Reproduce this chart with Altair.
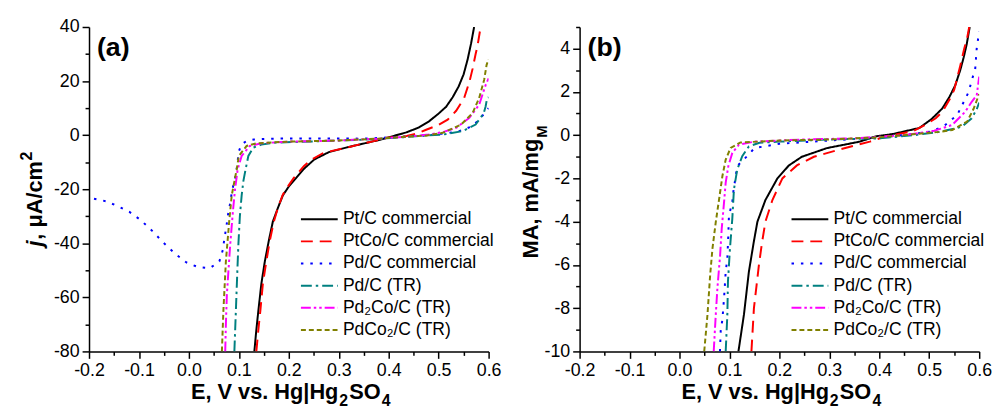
import altair as alt
import pandas as pd

FONT = "Liberation Sans, Arial, Helvetica, sans-serif"

# ---------------- series names / styles ----------------
names = ["Pt/C commercial", "PtCo/C commercial", "Pd/C commercial",
         "Pd/C (TR)", "Pd₂Co/C (TR)", "PdCo₂/C (TR)"]
colors = ["#000000", "#ff0000", "#0000ff", "#008080", "#ff00ff", "#808000"]
dashes = [[1, 0], [12, 7], [2.5, 7], [11, 4, 2.5, 4], [10, 3, 2.5, 3, 2.5, 3], [5, 3]]

# ---------------- panel (a): j, uA/cm2 ----------------
a_pt_e = [0.131, 0.135, 0.139, 0.145, 0.152, 0.160, 0.168, 0.178, 0.188, 0.200, 0.214, 0.230, 0.251, 0.280, 0.317, 0.350, 0.383, 0.410, 0.435, 0.460, 0.480, 0.500, 0.515, 0.528, 0.540, 0.550, 0.558, 0.565, 0.571]
a_pt_j = [-80, -72, -65, -55, -46.7, -39, -32, -27, -22.3, -19, -16, -12.5, -9, -6.3, -4.5, -3.1, -1.7, -0.3, 1.0, 2.8, 5, 8, 10.5, 14, 18, 22.5, 28, 34, 40]

a_ptco_e = [0.135, 0.139, 0.143, 0.148, 0.155, 0.162, 0.170, 0.178, 0.188, 0.200, 0.210, 0.230, 0.244, 0.270, 0.317, 0.360, 0.396, 0.436, 0.460, 0.475, 0.500, 0.518, 0.535, 0.551, 0.562, 0.568, 0.574, 0.578, 0.584]
a_ptco_j = [-80, -72, -65, -55, -46.7, -39, -32, -27, -22, -18.5, -15.8, -11.5, -9.2, -6.5, -4.6, -2.6, -1.0, -0.3, 0.8, 2.0, 3.8, 5.7, 9, 13.7, 20, 24.6, 30, 33.2, 40]

a_pd_e = [-0.190, -0.165, -0.142, -0.119, -0.096, -0.073, -0.051, -0.028, -0.005, 0.018, 0.042, 0.061, 0.068, 0.071, 0.075, 0.078, 0.083, 0.086, 0.092, 0.096, 0.100, 0.105, 0.115, 0.130, 0.165, 0.250, 0.350, 0.420, 0.480, 0.520, 0.541, 0.568, 0.587, 0.600]
a_pd_j = [-23.5, -24.5, -26.3, -28.4, -31.5, -35.5, -39.8, -43.8, -47.1, -48.8, -49.2, -46.7, -42.4, -38.2, -33.9, -29.7, -24.8, -20.9, -16.2, -12, -6, -3.5, -2.2, -1.6, -1.3, -1.2, -1.3, -0.7, 0.0, 0.8, 1.5, 3.3, 7, 10]

a_pdtr_e = [0.091, 0.094, 0.097, 0.099, 0.102, 0.1056, 0.109, 0.1135, 0.119, 0.129, 0.145, 0.170, 0.250, 0.350, 0.420, 0.470, 0.508, 0.548, 0.574, 0.590, 0.594, 0.597, 0.600]
a_pdtr_j = [-80, -65, -50, -40.6, -30, -22.3, -17, -12.6, -7.7, -4.6, -3.5, -2.8, -2.3, -1.7, -0.9, -0.2, 0.2, 1.5, 3.9, 8, 10.6, 13.7, 14]

a_pd2co_e = [0.0727, 0.074, 0.076, 0.0826, 0.088, 0.0924, 0.0977, 0.1056, 0.122, 0.145, 0.200, 0.300, 0.380, 0.440, 0.480, 0.510, 0.535, 0.561, 0.581, 0.594, 0.600]
a_pd2co_j = [-80, -70, -58.9, -40.6, -28.4, -19.9, -12.6, -7.7, -4, -3.0, -2.4, -2.0, -1.3, -0.5, 0.2, 1.2, 2.7, 6.3, 11.2, 18.5, 21]

a_pdco2_e = [0.066, 0.069, 0.074, 0.0806, 0.0857, 0.0957, 0.100, 0.1155, 0.136, 0.200, 0.300, 0.380, 0.440, 0.475, 0.508, 0.545, 0.568, 0.581, 0.591, 0.596, 0.600]
a_pdco2_j = [-80, -65, -46.7, -32, -22.3, -12.6, -7.7, -4, -3.0, -2.4, -2.0, -1.3, -0.5, -0.2, 0.85, 3.9, 8.2, 13.7, 20.4, 26, 28]

# ---------------- panel (b): MA, mA/mgM ----------------
b_pt_e = [0.118, 0.129, 0.139, 0.149, 0.156, 0.172, 0.196, 0.219, 0.245, 0.295, 0.361, 0.394, 0.427, 0.480, 0.505, 0.526, 0.540, 0.552, 0.562, 0.569, 0.575, 0.581]
b_pt_m = [-10, -8.3, -6.3, -4.9, -4, -3, -2, -1.4, -1.0, -0.6, -0.3, -0.05, 0.05, 0.33, 0.75, 1.23, 1.75, 2.3, 3.0, 3.6, 4.2, 5.0]

b_ptco_e = [0.144, 0.149, 0.154, 0.159, 0.165, 0.172, 0.186, 0.206, 0.235, 0.269, 0.315, 0.348, 0.381, 0.414, 0.466, 0.494, 0.513, 0.527, 0.542, 0.550, 0.562, 0.570, 0.576, 0.580]
b_ptco_m = [-10, -8, -7, -6, -5, -4, -3, -2, -1.4, -1.0, -0.7, -0.5, -0.3, -0.05, 0.17, 0.5, 0.78, 1.1, 1.7, 2.1, 3.2, 4.0, 4.5, 5.0]

b_pd_e = [0.081, 0.0825, 0.0859, 0.0892, 0.0925, 0.0958, 0.0975, 0.099, 0.1057, 0.108, 0.1156, 0.1355, 0.150, 0.200, 0.300, 0.400, 0.450, 0.506, 0.532, 0.556, 0.579, 0.585, 0.592, 0.595, 0.600]
b_pd_m = [-10, -9.05, -8.52, -7.53, -6.31, -5.7, -4.75, -3.72, -3.1, -2.58, -1.43, -0.97, -0.6, -0.4, -0.25, -0.1, 0.0, 0.17, 0.47, 0.93, 2.0, 2.53, 3.06, 4.0, 4.8]

b_pdtr_e = [0.0925, 0.0958, 0.097, 0.101, 0.1057, 0.109, 0.1156, 0.1256, 0.139, 0.160, 0.200, 0.300, 0.400, 0.470, 0.520, 0.550, 0.566, 0.585, 0.595, 0.600]
b_pdtr_m = [-10, -8.3, -6.77, -5.24, -3.87, -2.5, -1.59, -0.97, -0.52, -0.35, -0.3, -0.2, -0.15, 0.0, 0.15, 0.3, 0.4, 0.78, 1.2, 1.5]

b_pd2co_e = [0.0685, 0.0726, 0.0759, 0.0813, 0.0845, 0.0892, 0.0925, 0.0978, 0.1057, 0.119, 0.150, 0.250, 0.350, 0.450, 0.510, 0.546, 0.572, 0.585, 0.595, 0.600]
b_pd2co_m = [-10, -8.3, -7.07, -5.55, -4.33, -3.1, -2.19, -1.43, -0.82, -0.44, -0.3, -0.2, -0.15, 0.0, 0.2, 0.47, 1.08, 1.54, 1.84, 2.7]

b_pdco2_e = [0.0495, 0.056, 0.0614, 0.066, 0.0726, 0.0793, 0.0859, 0.0925, 0.1023, 0.122, 0.200, 0.300, 0.400, 0.450, 0.520, 0.546, 0.576, 0.589, 0.600]
b_pdco2_m = [-10, -8.3, -6.46, -5.24, -4.02, -2.96, -1.89, -1.13, -0.59, -0.34, -0.25, -0.2, -0.1, 0.0, 0.15, 0.24, 0.63, 1.23, 1.9]

# ---------------- axis tick values ----------------
x_ticks = [-0.2, -0.15, -0.1, -0.05, 0.0, 0.05, 0.1, 0.15, 0.2, 0.25, 0.3, 0.35, 0.4, 0.45, 0.5, 0.55, 0.6]
ya_ticks = [-80, -70, -60, -50, -40, -30, -20, -10, 0, 10, 20, 30, 40]
yb_ticks = [-10, -9, -8, -7, -6, -5, -4, -3, -2, -1, 0, 1, 2, 3, 4, 5]


def make_df(series):
    rows = []
    for name, es, vs in series:
        for i, (e, v) in enumerate(zip(es, vs)):
            rows.append({"series": name, "E": e, "V": v, "idx": i})
    return pd.DataFrame(rows)


df_a = make_df([(names[0], a_pt_e, a_pt_j), (names[1], a_ptco_e, a_ptco_j),
                (names[2], a_pd_e, a_pd_j), (names[3], a_pdtr_e, a_pdtr_j),
                (names[4], a_pd2co_e, a_pd2co_j), (names[5], a_pdco2_e, a_pdco2_j)])
df_b = make_df([(names[0], b_pt_e, b_pt_m), (names[1], b_ptco_e, b_ptco_m),
                (names[2], b_pd_e, b_pd_m), (names[3], b_pdtr_e, b_pdtr_m),
                (names[4], b_pd2co_e, b_pd2co_m), (names[5], b_pdco2_e, b_pdco2_m)])

W, H = 404, 328


def axis_common(**kw):
    base = dict(grid=False, title=None, domainColor="black", domainWidth=1.5,
                tickColor="black", tickWidth=1.5, labelColor="black",
                labelFont=FONT, labelFontSize=18, labelOverlap=False,
                labelFlush=False)
    base.update(kw)
    return alt.Axis(**base)


x_axis = axis_common(
    values=x_ticks,
    labelExpr="abs(round(datum.value*20)) % 2 == 0 ? replace(format(datum.value, '.1f'), '\u2212', '-') : ''",
    tickSize={"condition": {"test": "abs(round(datum.value*20)) % 2 == 0", "value": 7}, "value": 4},
    labelPadding=3,
)


def legend():
    return alt.Legend(title=None, orient="none", legendX=224, legendY=185.5,
                      symbolType="M-3.1,0H3.1", symbolSize=144, symbolStrokeWidth=2,
                      symbolFillColor="transparent",
                      labelFont=FONT, labelFontSize=17.7, labelColor="black",
                      labelOffset=15, rowPadding=3.4, padding=0)


def text_layer(txt, x, y, size, weight="bold", style="normal", angle=0, align="left"):
    return alt.Chart(pd.DataFrame({"t": [txt]})).mark_text(
        font=FONT, fontSize=size, fontWeight=weight, fontStyle=style, angle=angle,
        align=align, baseline="alphabetic", color="black"
    ).encode(text="t:N", x=alt.value(x), y=alt.value(y))


def x_title_layers():
    return [
        text_layer("E, V vs. Hg|Hg", 103, 376, 22),
        text_layer("2", 253, 383, 16),
        text_layer("SO", 263, 376, 22),
        text_layer("4", 296, 383, 16),
    ]


def panel(df, ydomain, yticks, ymajor, ytitle_layers, tag):
    y_axis = axis_common(
        values=yticks,
        labelExpr=f"datum.value % {ymajor} == 0 ? replace(format(datum.value, 'd'), '\u2212', '-') : ''",
        tickSize={"condition": {"test": f"datum.value % {ymajor} == 0", "value": 7}, "value": 4},
        labelPadding=3,
    )
    lines = alt.Chart(df).mark_line(strokeWidth=2, clip=True).encode(
        x=alt.X("E:Q", scale=alt.Scale(domain=[-0.2, 0.6], nice=False, zero=False), axis=x_axis),
        y=alt.Y("V:Q", scale=alt.Scale(domain=ydomain, nice=False, zero=False), axis=y_axis),
        color=alt.Color("series:N", scale=alt.Scale(domain=names, range=colors), legend=legend()),
        strokeDash=alt.StrokeDash("series:N", scale=alt.Scale(domain=names, range=dashes), legend=legend()),
        order=alt.Order("idx:Q"),
    )
    label = text_layer(tag, 8, 29, 27)
    return alt.layer(lines, label, *x_title_layers(), *ytitle_layers).properties(width=W, height=H)


ytitle_a = [
    text_layer("j", -47.5, 222, 22, style="italic", angle=270),
    text_layer(", μA/cm", -47.5, 215, 22, angle=270),
    text_layer("2", -57.5, 135, 16, angle=270),
]
ytitle_b = [
    text_layer("MA, mA/mg", -42, 234, 22, angle=270),
    text_layer("M", -33, 112, 15, angle=270),
]

pa = panel(df_a, [-80, 40], ya_ticks, 20, ytitle_a, "(a)")
pb = panel(df_b, [-10, 5], yb_ticks, 2, ytitle_b, "(b)")

chart = alt.hconcat(pa, pb, spacing=18).resolve_scale(
    x="independent", y="independent", color="independent", strokeDash="independent"
).properties(
    padding={"left": 19, "top": 16, "right": 5, "bottom": 5}, background="white"
).configure_view(stroke=None)

chart.save("out.html", embed_options={"renderer": "svg", "actions": False})
